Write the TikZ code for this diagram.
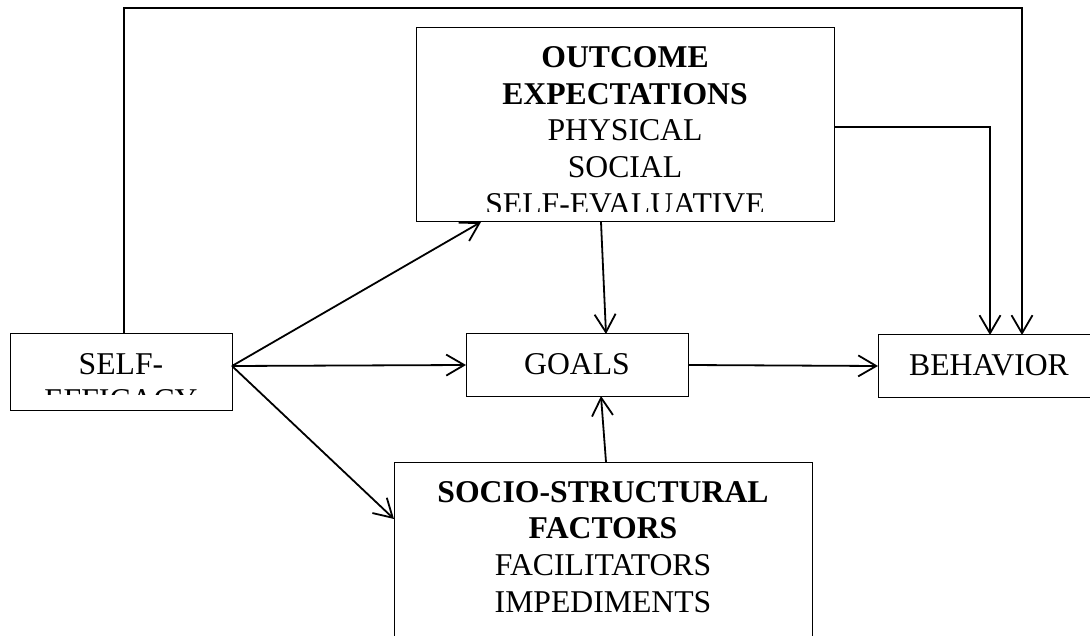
\documentclass[tikz,border=0pt]{standalone}
\usepackage{fontspec}
\setmainfont{Liberation Serif}
\usetikzlibrary{arrows.meta}
\begin{document}
\begin{tikzpicture}[x=1pt,y=-1pt,
  box/.style={draw,line width=1.0pt,rectangle,inner sep=0pt,outer sep=0pt},
  conn/.style={line width=1.8pt,-{Straight Barb[length=18pt,width=21pt]}},
  lbl/.style={anchor=base,inner sep=0pt,font=\fontsize{31.7}{36.7}\selectfont},
  blbl/.style={lbl,font=\fontsize{31.7}{36.7}\selectfont\bfseries}]
\clip (0,0) rectangle (1090,636);
\useasboundingbox (0,0) rectangle (1090,636);
% boxes
\node[box,minimum width=222pt,minimum height=76pt] (se) at (121,372) {};
\node[box,minimum width=418pt,minimum height=194pt] (oe) at (625,125) {};
\node[box,minimum width=222pt,minimum height=62pt] (go) at (577,365) {};
\node[box,minimum width=222pt,minimum height=62pt] (beh) at (989,366) {};
\node[box,minimum width=418pt,minimum height=188pt] (so) at (603,556) {};
% texts
\begin{scope}
  \clip (10,334) rectangle (232,394);
  \node[lbl] (se1) at (121,374) {SELF-};
  \node[lbl] (se2) at (121,410.7) {EFFICACY};
\end{scope}
\begin{scope}
  \clip (416,28) rectangle (834,212);
  \node[blbl] (oe1) at (625,68) {OUTCOME};
  \node[blbl] (oe2) at (625,105) {EXPECTATIONS};
  \node[lbl] (oe3) at (625,141) {PHYSICAL};
  \node[lbl] (oe4) at (625,178) {SOCIAL};
  \node[lbl] (oe5) at (625,215) {SELF-EVALUATIVE};
\end{scope}
\node[lbl] (go1) at (577,374) {GOALS};
\node[lbl] (beh1) at (989,376) {BEHAVIOR};
\node[blbl] (so1) at (603,502) {SOCIO-STRUCTURAL};
\node[blbl] (so2) at (603,538) {FACTORS};
\node[lbl] (so3) at (603,575) {FACILITATORS};
\node[lbl] (so4) at (603,612) {IMPEDIMENTS};
% connectors
\coordinate (topR) at (1022,8);
\coordinate (oR) at (990,127);
\draw[conn] ([xshift=3pt]se.north) |- (topR) -- (topR |- beh.north);
\draw[conn] (oe.east |- oR) -- (oR) -- (oR |- beh.north);
\coordinate (sefrom) at ([yshift=6pt]se.east);
\draw[conn] (sefrom) -- ([xshift=-144pt]oe.south);
\draw[conn] (sefrom) -- (go.west);
\draw[conn] (sefrom) -- ([yshift=37pt]so.west);
\draw[conn] ([xshift=-24pt]oe.south) -- ([xshift=29pt]go.north);
\draw[conn] ([xshift=3pt]so.north) -- ([xshift=24pt]go.south);
\draw[conn] (go.east) -- (beh.west);
\end{tikzpicture}
\end{document}
